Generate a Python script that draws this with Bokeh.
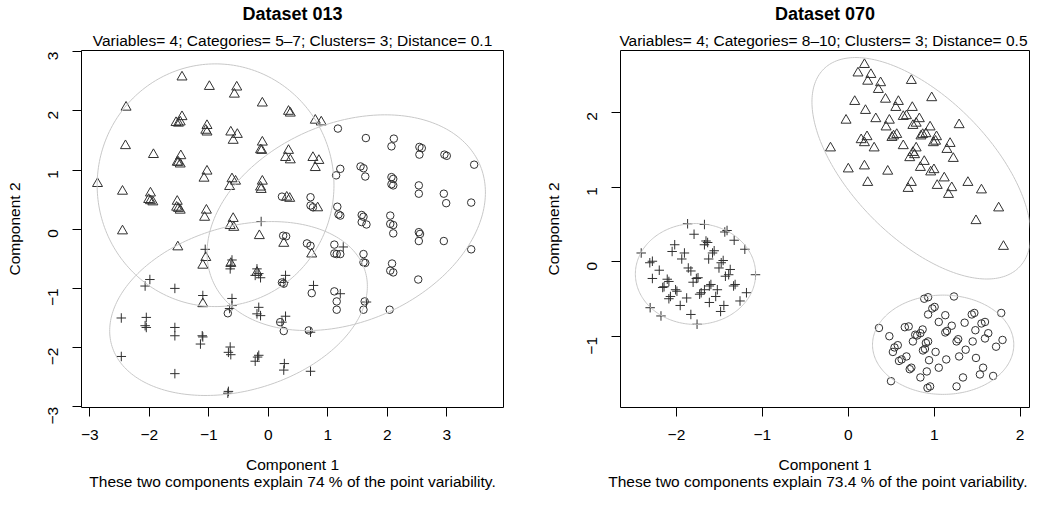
import math
import numpy as np
from bokeh.plotting import figure
from bokeh.layouts import row
from bokeh.models import FixedTicker, Title, Range1d
from bokeh.embed import file_html
from bokeh.resources import INLINE

FONT = "Liberation Sans"
PT_COLOR = "#303030"
ELL_COLOR = "#c8c8c8"
BASE = "15.5px"

# ---------------- Dataset 013 ----------------
d13_title = "Dataset 013"
d13_subtitle = "Variables= 4; Categories= 5\u20137; Clusters= 3; Distance= 0.1"
d13_caption = "These two components explain 74 % of the point variability."
d13_xticks = [-3, -2, -1, 0, 1, 2, 3]
d13_xlabels = ["\u22123", "\u22122", "\u22121", "0", "1", "2", "3"]
d13_yticks = [-3, -2, -1, 0, 1, 2, 3]
d13_ylabels = ["\u22123", "\u22122", "\u22121", "0", "1", "2", "3"]

d13_tri_x = [-1.45, -0.99, -0.53, -0.57, -0.10, 0.34, 0.37, -2.39,
             -1.45, -1.48, -1.51, -1.55, -1.03, -1.05, -1.03, -0.63, -0.52, -0.59,
             -0.10, -0.13, -0.11, 0.34, 0.29, 0.37, 0.79, 0.89, 0.75, 0.85, 0.79,
             -2.40, -1.93, -1.47, -1.53, -1.48, -1.51, -1.03, -1.08, -0.61, -0.55, -0.65,
             -0.10, -0.13, -0.12, -2.87, -2.45, -1.98, -2.01, -1.94, -1.98, -1.53, -1.54, -1.48, -1.51,
             -1.04, -1.07, -0.59, -0.64, -0.58, -0.15, -2.45, 0.31, 0.36, 0.83, 0.26, -1.52, 0.73,
             -1.05, -1.10, -0.63, -1.10, -0.19]
d13_tri_y = [2.57, 2.41, 2.40, 2.28, 2.13, 1.99, 1.96, 2.06,
             1.90, 1.81, 1.79, 1.80, 1.75, 1.67, 1.64, 1.64, 1.60, 1.50,
             1.47, 1.34, 1.33, 1.33, 1.21, 1.17, 1.84, 1.81, 1.21, 1.16, 1.04,
             1.41, 1.26, 1.24, 1.13, 1.10, 1.13, 0.98, 0.86, 0.85, 0.81, 0.72,
             0.81, 0.71, 0.67, 0.77, 0.64, 0.61, 0.50, 0.46, 0.48, 0.47, 0.37, 0.32, 0.35,
             0.32, 0.20, 0.18, 0.06, 0.03, -0.11, -0.03, 0.54, 0.52, 0.36, -0.24, -0.30, -0.42,
             -0.48, -0.61, -0.58, -1.26, -0.73]

d13_cir_x = [1.17, 1.64, 2.11, 2.07, 2.54, 2.58, 2.54, 2.96, 3.00, 3.46,
             1.21, 1.14, 1.55, 1.60, 1.63, 2.07, 2.10, 2.07, 2.10, 2.53, 2.53, 2.95, 2.99, 3.41,
             1.16, 1.18, 1.21, 1.57, 1.60, 1.57, 1.65, 2.05, 2.05, 2.10, 2.10, 2.53, 2.55, 2.53, 2.95, 3.41,
             0.23, 0.71, 0.71, 0.75, 0.25, 0.30, 0.65, 0.71, 1.11, 1.11, 1.15, 1.21, 1.60, 1.60, 1.63,
             2.08, 2.05, 2.10, 2.52, 0.23, 0.26, 0.73, 1.11, 1.15, 1.15, 1.62, 1.60, 2.04,
             0.20, 0.26, 0.68, -0.68]
d13_cir_y = [1.70, 1.54, 1.53, 1.40, 1.39, 1.37, 1.26, 1.26, 1.24, 1.09,
             1.02, 0.91, 1.06, 1.03, 0.89, 0.88, 0.85, 0.76, 0.74, 0.74, 0.60, 0.60, 0.44, 0.45,
             0.38, 0.25, 0.23, 0.24, 0.21, 0.12, 0.08, 0.23, 0.09, 0.07, -0.07, -0.05, -0.08, -0.20, -0.20, -0.34,
             0.55, 0.54, 0.40, 0.37, -0.11, -0.12, -0.24, -0.28, -0.26, -0.41, -0.42, -0.42, -0.42, -0.56, -0.57,
             -0.58, -0.70, -0.73, -0.85, -0.90, -0.92, -1.08, -1.05, -1.22, -1.36, -1.22, -1.36, -1.36,
             -1.57, -1.72, -1.71, -1.42]

d13_plus_x = [-0.12, -1.06, -0.61, -0.63, -0.64, -0.19, -0.16, -0.22, -0.13, 0.29, 0.26,
              -1.99, -2.07, -1.57, -1.10, -0.61, -0.61, -0.65, -0.16, -0.19, -0.13, 0.29, 0.23,
              -2.47, -2.05, -2.07, -2.05, -1.57, -1.57, -1.11, -1.14, -1.10, -0.64, -0.67, -0.63,
              -0.16, -0.22, -0.18, 0.27, 0.26, -2.47, -1.57, -0.67, -0.68,
              1.26, 0.76, 1.21, 1.65, 0.71, 0.71]
d13_plus_y = [0.13, -0.34, -0.52, -0.61, -0.67, -0.67, -0.75, -0.78, -0.82, -0.78, -0.90,
              -0.85, -0.96, -1.00, -1.12, -1.17, -1.29, -1.34, -1.32, -1.43, -1.46, -1.47, -1.57,
              -1.50, -1.49, -1.63, -1.66, -1.66, -1.80, -1.80, -1.94, -1.82, -1.99, -2.08, -2.12,
              -2.13, -2.23, -2.16, -2.27, -2.38, -2.15, -2.44, -2.74, -2.77,
              -0.30, -0.95, -1.09, -1.23, -1.74, -2.40]

# ellipses: triangle, circle, plus clusters (centre, semi-axes, angle in degrees)
d13_ell_cx = [-0.886, 1.31, -0.50]
d13_ell_cy = [0.743, 0.11, -1.34]
d13_ell_a = [1.99, 2.45, 2.22]
d13_ell_b = [2.05, 1.67, 1.385]
d13_ell_ang = [0.0, 24.0, 16.4]

# ---------------- Dataset 070 ----------------
d70_title = "Dataset 070"
d70_subtitle = "Variables= 4; Categories= 8\u201310; Clusters= 3; Distance= 0.5"
d70_caption = "These two components explain 73.4 % of the point variability."
d70_xticks = [-2, -1, 0, 1, 2]
d70_xlabels = ["\u22122", "\u22121", "0", "1", "2"]
d70_yticks = [-1, 0, 1, 2]
d70_ylabels = ["\u22121", "0", "1", "2"]

d70_tri_x = [0.188, 0.113, 0.263, 0.226, 0.376, 0.35, 0.734, 0.971, 0.075, 0.433,
             0.583, 0.553, 0.745, 0.2, -0.026, 0.32, 0.478, 0.64, 0.677, 0.827,
             0.44, 0.752, 0.79, 0.952, 1.29, -0.207, 0.15, 0.218, 0.188, 0.301,
             0.527, 0.564, 0.508, 0.64, 0.866, 0.903, 0.846, 1.027, 0.99, 1.016,
             1.185, 1.148, 0.79, 0.752, 0.715, 0.771, 0.884, 1.222, 0.0, 0.188,
             0.459, 0.839, 0.959, 0.997, 0.226, 0.734, 0.696, 1.035, 1.117, 1.204,
             1.166, 1.392, 1.55, 1.75, 1.486, 1.806]
d70_tri_y = [2.633, 2.52, 2.5, 2.41, 2.39, 2.3, 2.42, 2.19, 2.14, 2.17,
             2.14, 2.06, 2.06, 2.02, 1.89, 1.91, 1.89, 1.94, 1.95, 1.91,
             1.80, 1.82, 1.85, 1.80, 1.83, 1.52, 1.63, 1.67, 1.59, 1.52,
             1.68, 1.70, 1.66, 1.55, 1.70, 1.71, 1.68, 1.67, 1.59, 1.61,
             1.58, 1.50, 1.52, 1.46, 1.39, 1.43, 1.34, 1.38, 1.24, 1.28,
             1.21, 1.26, 1.20, 1.23, 1.06, 1.06, 0.98, 1.02, 1.12, 0.99,
             0.90, 1.06, 0.96, 0.72, 0.55, 0.207]

d70_plus_x = [-1.87, -1.674, -1.795, -1.437, -1.411, -1.328, -1.204, -1.656, -1.637, -1.674,
              -2.02, -2.05, -1.907, -1.938, -1.561, -1.58, -1.625, -1.456, -1.479, -1.505,
              -2.41, -2.31, -2.28, -2.20, -1.862, -1.832, -1.749, -1.768, -1.806, -1.617,
              -1.599, -1.674, -1.712, -1.73, -1.374, -1.392, -1.43, -1.335, -1.317, -2.28,
              -2.107, -2.088, -2.144, -2.16, -2.01, -1.994, -2.07, -2.088, -1.881, -1.956,
              -1.524, -1.543, -1.617, -1.448, -1.486, -1.185, -1.26, -1.08, -2.306, -2.18,
              -1.832, -1.76]
d70_plus_y = [0.51, 0.50, 0.37, 0.40, 0.42, 0.29, 0.17, 0.28, 0.26, 0.23,
              0.23, 0.14, 0.12, 0.04, 0.15, 0.12, 0.04, 0.02, -0.01, -0.08,
              0.12, -0.01, 0.01, -0.11, -0.08, -0.12, -0.21, -0.22, -0.27, -0.32,
              -0.30, -0.37, -0.41, -0.43, -0.10, -0.17, -0.19, -0.32, -0.30, -0.22,
              -0.23, -0.26, -0.33, -0.34, -0.37, -0.39, -0.46, -0.49, -0.48, -0.58,
              -0.37, -0.46, -0.54, -0.58, -0.66, -0.41, -0.52, -0.17, -0.61, -0.72,
              -0.70, -0.83]

d70_cir_x = [0.884, 0.929, 1.23, 1.78, 0.357, 1.005, 0.978, 0.929, 1.129, 1.053,
             0.658, 0.703, 0.478, 0.576, 0.538, 0.519, 0.752, 0.801, 0.839, 0.865,
             0.779, 0.903, 0.929, 0.892, 0.869, 1.016, 1.129, 1.148, 1.204, 1.26,
             1.279, 1.354, 1.437, 1.467, 1.55, 1.591, 1.479, 1.448, 1.366, 1.29,
             1.14, 1.053, 0.94, 0.914, 0.839, 0.734, 0.715, 0.677, 0.621, 0.59,
             1.486, 1.569, 1.532, 1.629, 1.591, 1.795, 1.72, 1.686, 1.335, 1.26,
             0.922, 0.952, 0.497]
d70_cir_y = [-0.49, -0.47, -0.46, -0.68, -0.88, -0.60, -0.62, -0.70, -0.71, -0.80,
             -0.87, -0.86, -0.99, -1.11, -1.14, -1.20, -1.06, -0.98, -0.95, -0.90,
             -0.97, -1.08, -1.06, -1.16, -1.18, -1.20, -0.94, -0.92, -0.85, -1.06,
             -1.03, -0.81, -0.70, -0.68, -0.82, -0.80, -0.91, -1.06, -1.17, -1.26,
             -1.30, -1.41, -1.31, -1.46, -1.54, -1.41, -1.43, -1.26, -1.30, -1.32,
             -1.28, -1.41, -1.50, -0.95, -1.02, -1.04, -1.13, -1.52, -1.54, -1.66,
             -1.68, -1.66, -1.59]

d70_ell_cx = [0.85, -1.778, 1.104]
d70_ell_cy = [1.25, -0.16, -1.104]
d70_ell_a = [1.75, 0.70, 0.822]
d70_ell_b = [0.86, 0.673, 0.662]
d70_ell_ang = [-52.0, 0.0, 0.0]


def ellipse_path(cx, cy, a, b, ang_deg, n=240):
    t = np.linspace(0.0, 2.0 * np.pi, n)
    th = math.radians(ang_deg)
    x = cx + a * np.cos(t) * math.cos(th) - b * np.sin(t) * math.sin(th)
    y = cy + a * np.cos(t) * math.sin(th) + b * np.sin(t) * math.cos(th)
    return x, y


def make_panel(width, border_left, border_right, xr, yr,
               xticks, xlabels, yticks, ylabels,
               title, subtitle, caption,
               tri, cir, plus, ell, text_align="center"):
    p = figure(width=width, height=493,
               x_range=Range1d(*xr), y_range=Range1d(*yr),
               output_backend="svg", toolbar_location=None, title=None,
               min_border_left=border_left, min_border_right=border_right,
               min_border_top=50, min_border_bottom=86)
    p.xgrid.visible = False
    p.ygrid.visible = False
    p.outline_line_color = "black"
    p.outline_line_width = 1
    p.outline_line_alpha = 1.0
    p.background_fill_color = "white"
    p.border_fill_color = "white"

    for ax, ticks, labels in ((p.xaxis[0], xticks, xlabels), (p.yaxis[0], yticks, ylabels)):
        ax.ticker = FixedTicker(ticks=ticks)
        ax.major_label_overrides = {t: l for t, l in zip(ticks, labels)}
        ax.axis_line_color = None
        ax.major_tick_in = 0
        ax.major_tick_out = 9
        ax.major_tick_line_color = "black"
        ax.minor_tick_in = 0
        ax.minor_tick_out = 0
        ax.major_label_text_font = FONT
        ax.major_label_text_font_size = BASE
        ax.major_label_text_color = "black"
        ax.axis_label_text_font = FONT
        ax.axis_label_text_font_size = BASE
        ax.axis_label_text_font_style = "normal"
        ax.axis_label_text_color = "black"
    p.xaxis[0].axis_label = "Component 1"
    p.xaxis[0].major_label_standoff = 13
    p.xaxis[0].axis_label_standoff = 13
    p.yaxis[0].axis_label = "Component 2"
    p.yaxis[0].major_label_standoff = 19
    p.yaxis[0].axis_label_standoff = 18
    p.yaxis[0].major_label_orientation = math.pi / 2

    p.add_layout(Title(text=subtitle, align=text_align, offset=2, text_font=FONT,
                       text_font_size=BASE, text_font_style="normal",
                       text_color="black", standoff=3), "above")
    p.add_layout(Title(text=title, align="center", text_font=FONT,
                       text_font_size="18px", text_font_style="bold",
                       text_color="black", standoff=5, vertical_align="top"), "above")
    p.add_layout(Title(text=caption, align=text_align, offset=2, text_font=FONT,
                       text_font_size=BASE, text_font_style="normal",
                       text_color="black", standoff=-6, vertical_align="top"), "below")

    p.scatter(tri[0], tri[1], marker="triangle", size=10, fill_color=None,
              line_color=PT_COLOR, line_width=1)
    p.scatter(cir[0], cir[1], marker="circle", size=7.5, fill_color=None,
              line_color=PT_COLOR, line_width=1)
    p.scatter(plus[0], plus[1], marker="cross", size=9.5,
              line_color=PT_COLOR, line_width=1)

    for cx, cy, a, b, ang in zip(*ell):
        ex, ey = ellipse_path(cx, cy, a, b, ang)
        p.line(ex, ey, line_color=ELL_COLOR, line_width=1)
    return p


p1 = make_panel(523, 81, 20, (-3.139, 3.953), (-3.012, 3.019),
                d13_xticks, d13_xlabels, d13_yticks, d13_ylabels,
                d13_title, d13_subtitle, d13_caption,
                (d13_tri_x, d13_tri_y), (d13_cir_x, d13_cir_y), (d13_plus_x, d13_plus_y),
                (d13_ell_cx, d13_ell_cy, d13_ell_a, d13_ell_b, d13_ell_ang))

p2 = make_panel(507, 97, 1, (-2.651, 2.109), (-1.941, 2.821),
                d70_xticks, d70_xlabels, d70_yticks, d70_ylabels,
                d70_title, d70_subtitle, d70_caption,
                (d70_tri_x, d70_tri_y), (d70_cir_x, d70_cir_y), (d70_plus_x, d70_plus_y),
                (d70_ell_cx, d70_ell_cy, d70_ell_a, d70_ell_b, d70_ell_ang),
                text_align="right")

layout = row(p1, p2)
open("out.html", "w").write(file_html(layout, INLINE))
